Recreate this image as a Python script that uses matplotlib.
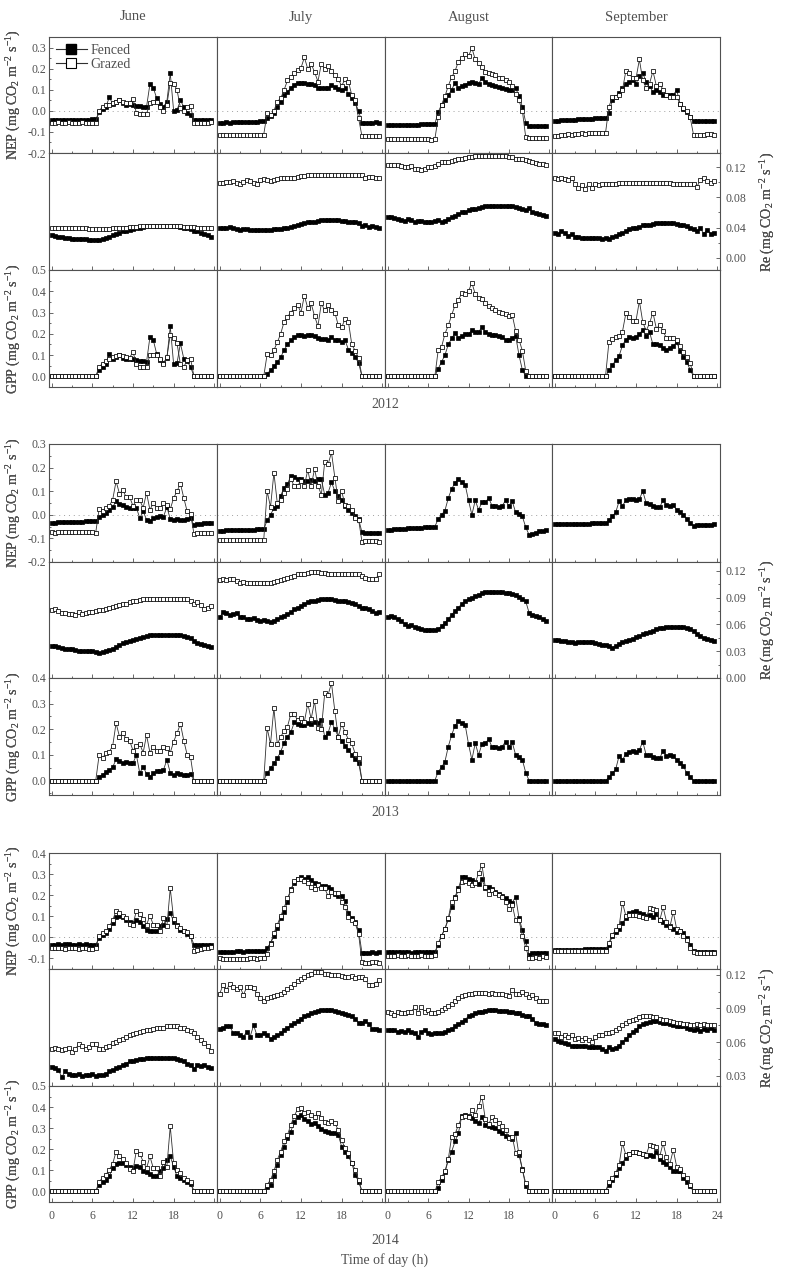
import numpy as np
import matplotlib
matplotlib.use("Agg")
import matplotlib.pyplot as plt
from matplotlib.ticker import MultipleLocator, FormatStrFormatter
from matplotlib.lines import Line2D

plt.rcParams['font.family'] = ['Liberation Serif', 'DejaVu Serif']
plt.rcParams['mathtext.fontset'] = 'custom'
plt.rcParams['mathtext.rm'] = 'Liberation Serif'
plt.rcParams['mathtext.it'] = 'Liberation Serif:italic'
plt.rcParams['axes.unicode_minus'] = False

GRAY = '#505050'

# half-hourly values, unit 0.001 mg CO2 m-2 s-1 ; f = fenced, g = grazed
months = ['June', 'July', 'August', 'September']
years = ['2012', '2013', '2014']

# ---------------- 2012 ----------------
nep_f_jun12 = [-45, -45, -44, -44, -43, -43, -42, -42, -42, -41, -41, -41, -40, -40,
               -5, 10, 20, 65, 35, 45, 50, 40, 30, 35, 30, 25, 25, 20, 20, 128, 110, 60, 35, 20,
               45, 180, 0, 5, 50, 20, -10, -20, -45, -45, -45, -44, -43, -42]
nep_g_jun12 = [-55, -55, -54, -55, -55, -54, -55, -55, -55, -54, -55, -55, -55, -55,
               0, 20, 30, 30, 40, 45, 50, 45, 40, 40, 57, -10, -15, -15, -15, 40, 45, 45, 20, 0,
               30, 135, 130, 100, 15, 0, 20, 25, -55, -55, -55, -55, -55, -54]
nep_f_jul12 = [-55, -55, -54, -55, -54, -53, -53, -52, -52, -52, -51, -51, -50, -50,
               -35, -25, -10, 20, 45, 75, 90, 110, 125, 135, 135, 135, 130, 130, 125, 110, 110, 110, 110, 125,
               115, 105, 100, 110, 80, 60, 40, 0, -55, -55, -56, -55, -54, -55]
nep_g_jul12 = [-112, -112, -113, -112, -112, -113, -113, -112, -114, -113, -114, -113, -112, -112,
               -10, -20, 0, 45, 60, 100, 145, 160, 180, 195, 205, 255, 200, 225, 185, 140, 225, 200, 215, 190,
               170, 150, 120, 150, 140, 75, 50, -35, -120, -120, -121, -120, -119, -120]
nep_f_aug12 = [-68, -68, -67, -67, -66, -66, -66, -65, -65, -65, -64, -64, -63, -63, -62,
               -5, 30, 50, 75, 100, 135, 110, 120, 125, 135, 140, 135, 130, 155, 140, 130, 125, 120, 115,
               110, 105, 100, 100, 110, 70, 20, -55, -72, -71, -71, -70, -70, -70]
nep_g_aug12 = [-135, -135, -135, -134, -135, -134, -134, -135, -134, -133, -134, -135, -134, -136, -135,
               -30, 30, 70, 120, 160, 190, 235, 250, 270, 260, 300, 245, 230, 210, 185, 180, 175, 170, 155,
               155, 145, 140, 120, 80, 50, 0, -125, -130, -130, -131, -130, -130, -129]
nep_f_sep12 = [-46, -46, -45, -44, -43, -42, -41, -40, -38, -37, -36, -36, -35, -35, -35, -35,
               -10, 50, 68, 85, 110, 130, 140, 145, 130, 165, 180, 140, 120, 90, 100, 90,
               75, 75, 75, 75, 100, 35, 10, -5, -30, -50, -50, -48, -50, -46, -50, -47]
nep_g_sep12 = [-118, -117, -115, -112, -110, -112, -108, -110, -106, -108, -104, -106, -104, -105, -104, -105,
               20, 65, 68, 75, 100, 190, 180, 155, 155, 245, 145, 110, 130, 190, 120, 130,
               100, 75, 68, 68, 68, 33, 13, 0, -30, -115, -115, -113, -112, -108, -110, -112]

re_f_jun12 = [30, 29, 28, 27, 26, 26, 25, 25, 25, 25, 25, 24, 24, 24, 24, 25, 26, 28, 30, 32,
              33, 35, 36, 37, 38, 39, 40, 41, 42, 42, 42, 42, 42, 42, 42, 42, 42, 42, 41, 40,
              39, 38, 36, 35, 33, 32, 30, 27]
re_g_jun12 = [40, 40, 40, 40, 40, 40, 39, 39, 39, 39, 39, 38, 38, 38, 38, 38, 38, 38, 39, 39,
              39, 40, 40, 41, 41, 41, 42, 42, 42, 42, 42, 42, 42, 42, 42, 42, 42, 42, 42, 41,
              41, 41, 41, 40, 40, 39, 39, 39]
re_f_jul12 = [40, 40, 39, 41, 39, 38, 37, 38, 38, 37, 37, 37, 37, 37, 37, 37, 38, 38, 38, 39,
              40, 41, 42, 43, 45, 46, 47, 47, 48, 49, 50, 50, 50, 50, 50, 50, 49, 49, 48, 48,
              47, 46, 42, 43, 41, 42, 41, 40]
re_g_jul12 = [99, 99, 100, 100, 101, 99, 98, 100, 103, 102, 99, 98, 103, 104, 103, 101, 103, 104, 105, 105,
              105, 106, 106, 107, 108, 108, 109, 109, 109, 109, 110, 110, 110, 110, 110, 110, 110, 110, 110, 110,
              110, 109, 109, 106, 107, 107, 106, 105]
re_f_aug12 = [54, 54, 53, 52, 50, 49, 51, 50, 48, 49, 49, 48, 48, 48, 49, 50, 47, 49, 51, 54,
              55, 58, 60, 61, 63, 64, 65, 66, 67, 68, 68, 69, 69, 69, 69, 69, 68, 68, 67, 66,
              64, 63, 66, 60, 59, 58, 57, 55]
re_g_aug12 = [123, 123, 123, 123, 121, 120, 120, 121, 117, 117, 116, 118, 120, 120, 121, 124, 126, 127, 127, 128,
              129, 130, 131, 132, 133, 133, 134, 134, 134, 134, 134, 134, 134, 134, 134, 134, 133, 133, 131, 131,
              130, 129, 128, 127, 125, 124, 124, 123]
re_f_sep12 = [33, 32, 36, 33, 29, 32, 28, 27, 26, 26, 26, 26, 26, 26, 25, 26, 25, 27, 29, 32,
              33, 36, 38, 39, 40, 41, 43, 43, 44, 45, 46, 46, 46, 46, 46, 46, 45, 44, 43, 42,
              40, 38, 36, 39, 32, 37, 32, 33]
re_g_sep12 = [105, 104, 106, 104, 103, 105, 98, 92, 96, 91, 98, 92, 98, 96,
              98, 98, 98, 98, 98, 99, 99, 99, 99, 99, 99, 99, 99, 99, 99, 99, 99, 99, 99, 99,
              99, 98, 98, 98, 98, 98, 98, 97, 94, 103, 105, 102, 99, 101]

gpp_f_jun12 = [0] * 14 + [30, 45, 60, 107, 83, 90, 100, 85, 80, 83, 80, 75, 73, 72, 68, 185, 170, 105,
                          75, 65, 85, 235, 57, 63, 155, 83, 70, 45] + [0] * 6
gpp_g_jun12 = [0] * 14 + [45, 60, 72, 83, 90, 95, 100, 95, 90, 88, 115, 57, 45, 45, 45, 100, 100, 100,
                          83, 57, 90, 195, 180, 155, 57, 45, 75, 83] + [0] * 6
gpp_f_jul12 = [0] * 14 + [13, 28, 47, 68, 90, 123, 150, 170, 185, 193, 193, 190, 193, 193, 190, 178, 175,
                          175, 172, 185, 172, 170, 162, 170, 126, 110, 90, 63] + [0] * 6
gpp_g_jul12 = [0] * 14 + [104, 100, 123, 160, 200, 256, 280, 300, 320, 335, 300, 380, 320, 343, 283, 236,
                          343, 310, 335, 310, 300, 240, 230, 270, 256, 150, 120, 88] + [0] * 6
gpp_f_aug12 = [0] * 15 + [36, 68, 100, 150, 178, 204, 182, 190, 198, 200, 217, 210, 210, 230, 210, 200,
                          195, 195, 190, 185, 173, 173, 182, 190, 100, 30] + [0] * 7
gpp_g_aug12 = [0] * 15 + [123, 138, 200, 240, 288, 335, 360, 390, 387, 400, 440, 387, 370, 362, 346, 330,
                          320, 310, 303, 298, 292, 285, 288, 214, 173, 120, 25] + [0] * 6
gpp_f_sep12 = [0] * 16 + [28, 52, 75, 95, 146, 173, 185, 182, 185, 198, 220, 190, 208, 150, 154, 146,
                          135, 126, 135, 142, 162, 120, 91, 68, 30] + [0] * 7
gpp_g_sep12 = [0] * 16 + [160, 175, 185, 190, 210, 296, 280, 262, 262, 354, 255, 214, 250, 300, 225, 240,
                          214, 178, 180, 180, 172, 141, 115, 90, 63] + [0] * 7

# ---------------- 2013 ----------------
nep_f_jun13 = [-33, -33, -32, -32, -31, -31, -30, -30, -29, -29, -28, -28, -27, -26,
               -10, 0, 7, 20, 33, 57, 47, 40, 35, 30, 28, 30, -14, 14, -20, -28, -15, -8, -5, -8,
               33, -18, -20, -17, -20, -20, -18, -12, -45, -40, -37, -35, -35, -34]
nep_g_jun13 = [-74, -75, -74, -74, -73, -74, -74, -73, -74, -73, -74, -74, -74, -75,
               25, 18, 28, 38, 64, 142, 90, 104, 75, 75, 38, 61, 61, 30, 93, 21, 50, 28, 28, 50,
               43, 24, 71, 100, 132, 71, 14, 4, -81, -78, -76, -75, -77, -78]
nep_f_jul13 = [-67, -67, -66, -66, -66, -65, -65, -64, -64, -63, -63, -62, -62, -61,
               -24, 0, 28, 38, 81, 114, 130, 164, 160, 152, 150, 142, 142, 146, 142, 152, 150, 85, 93, 138,
               100, 78, 64, 38, 21, 7, -4, -18, -74, -75, -75, -76, -75, -75]
nep_g_jul13 = [-107, -107, -106, -107, -107, -106, -106, -107, -106, -106, -106, -107, -106, -106,
               100, 33, 178, 50, 61, 93, 110, 152, 121, 124, 142, 124, 190, 121, 195, 124, 85, 224, 214, 264,
               157, 57, 100, 43, 36, 21, -14, -20, -114, -112, -112, -112, -112, -115]
nep_f_aug13 = [-64, -63, -62, -61, -60, -59, -58, -57, -56, -55, -54, -53, -52, -51, -50,
               -18, 0, 18, 71, 110, 135, 152, 138, 128, 61, 0, 61, 21, 53, 53, 71, 38, 38, 33, 38,
               61, 38, 57, 10, 4, -7, -53, -85, -80, -75, -70, -67, -63]
nep_f_sep13 = [-40, -40, -39, -39, -38, -38, -38, -37, -37, -37, -37, -36, -36, -36, -36, -36,
               -21, -7, 10, 57, 38, 61, 67, 67, 61, 67, 100, 50, 47, 38, 33, 33,
               61, 43, 38, 43, 21, 10, 0, -18, -36, -47, -45, -45, -44, -43, -42, -41]

re_f_jun13 = [36, 36, 35, 34, 33, 32, 32, 31, 30, 30, 30, 30, 30, 29, 28, 29, 30, 31, 33, 35,
              37, 39, 40, 42, 43, 44, 45, 46, 47, 48, 48, 48, 48, 48, 48, 48, 48, 48, 48, 47,
              46, 45, 42, 39, 38, 37, 36, 35]
re_g_jun13 = [76, 77, 75, 73, 73, 72, 72, 71, 74, 72, 73, 74, 74, 75, 76, 76, 77, 78, 80, 81,
              82, 83, 83, 85, 86, 86, 87, 88, 88, 88, 89, 89, 89, 89, 89, 89, 89, 89, 89, 89,
              88, 86, 83, 85, 82, 77, 79, 81]
re_f_jul13 = [68, 74, 73, 71, 72, 73, 68, 68, 66, 66, 67, 65, 64, 65, 64, 63, 64, 66, 68, 70,
              72, 74, 77, 79, 81, 83, 85, 86, 86, 87, 88, 88, 88, 88, 87, 86, 86, 86, 85, 84,
              83, 81, 79, 78, 77, 75, 73, 74]
re_g_jul13 = [110, 111, 110, 111, 111, 109, 106, 108, 107, 107, 107, 107, 106, 107, 107, 107, 108, 109, 110, 111,
              112, 113, 114, 116, 116, 117, 118, 119, 119, 119, 118, 118, 117, 117, 117, 117, 117, 117, 116, 116,
              116, 116, 114, 112, 111, 111, 111, 116]
re_f_aug13 = [68, 70, 68, 66, 64, 61, 58, 59, 57, 56, 55, 54, 54, 54, 54, 55, 58, 62, 66, 71,
              75, 79, 83, 86, 88, 90, 92, 93, 95, 96, 96, 96, 96, 96, 96, 95, 95, 94, 93, 91,
              89, 86, 73, 71, 70, 68, 66, 64]
re_f_sep13 = [43, 43, 41, 41, 40, 40, 39, 40, 40, 40, 40, 40, 39, 38, 37, 37, 36, 34, 36, 38,
              40, 41, 43, 44, 46, 47, 49, 50, 52, 53, 55, 56, 56, 57, 57, 57, 57, 57, 57, 56,
              55, 53, 49, 47, 45, 44, 43, 41]

gpp_f_jun13 = [0] * 14 + [16, 22, 35, 42, 52, 83, 78, 70, 74, 70, 68, 100, 29, 55, 26, 16, 29, 39, 39,
                          42, 81, 31, 22, 29, 26, 22, 22, 26] + [0] * 6
gpp_g_jun13 = [0] * 14 + [100, 87, 107, 113, 135, 224, 172, 185, 162, 156, 117, 135, 143, 109, 178, 109,
                          133, 117, 117, 133, 126, 109, 152, 185, 221, 156, 100, 91] + [0] * 6
gpp_f_jul13 = [0] * 14 + [29, 48, 68, 87, 113, 146, 172, 188, 227, 221, 218, 218, 224, 221, 227, 224,
                          237, 172, 185, 230, 200, 172, 156, 135, 120, 100, 85, 70] + [0] * 6
gpp_g_jul13 = [0] * 14 + [205, 143, 283, 143, 170, 195, 210, 260, 260, 235, 245, 230, 300, 240, 310, 205,
                          200, 340, 335, 380, 270, 170, 220, 190, 160, 145, 105, 90] + [0] * 6
gpp_f_aug13 = [0] * 15 + [35, 52, 74, 133, 178, 214, 231, 224, 218, 143, 81, 146, 100, 143, 146, 162,
                          130, 133, 126, 133, 152, 133, 149, 100, 94, 81, 31] + [0] * 6
gpp_f_sep13 = [0] * 16 + [13, 29, 44, 96, 81, 104, 113, 117, 113, 120, 152, 100, 100, 91, 87, 87,
                          117, 96, 100, 96, 81, 70, 57, 29, 13] + [0] * 7

# ---------------- 2014 ----------------
nep_f_jun14 = [-35, -38, -33, -35, -33, -32, -35, -34, -33, -35, -33, -34, -35, -34,
               -3, 13, 20, 40, 67, 96, 102, 96, 83, 75, 67, 80, 75, 52, 36, 28, 28, 28, 52, 60,
               86, 115, 75, 60, 36, 28, 17, 8, -35, -38, -37, -36, -36, -35]
nep_g_jun14 = [-50, -52, -50, -51, -53, -50, -51, -52, -53, -51, -52, -54, -53, -52,
               8, 20, 28, 52, 80, 127, 115, 102, 91, 64, 60, 127, 111, 86, 60, 102, 60, 60, 28, 90,
               52, 232, 86, 55, 44, 28, 24, 5, -66, -58, -55, -52, -50, -46]
nep_f_jul14 = [-70, -70, -69, -68, -68, -67, -67, -68, -67, -66, -66, -66, -66, -65,
               -50, -27, 5, 44, 91, 122, 170, 227, 259, 279, 284, 275, 284, 271, 256, 253, 243, 245, 237, 227,
               205, 196, 196, 174, 115, 91, 71, 36, -74, -72, -72, -71, -72, -71]
nep_g_jul14 = [-100, -102, -104, -103, -102, -104, -101, -103, -102, -100, -100, -101, -100, -98,
               -80, -30, 20, 60, 100, 140, 185, 225, 265, 279, 279, 268, 259, 237, 227, 248, 232, 232, 196, 216,
               212, 212, 170, 143, 96, 83, 67, 17, -118, -120, -120, -119, -117, -120]
nep_f_aug14 = [-70, -71, -70, -68, -70, -69, -70, -72, -70, -69, -70, -68, -70, -69, -68,
               -35, 8, 40, 86, 143, 193, 232, 284, 287, 279, 271, 264, 253, 275, 232, 237, 227, 216, 205,
               196, 185, 174, 165, 193, 91, 36, -19, -82, -75, -74, -73, -72, -72]
nep_g_aug14 = [-86, -86, -87, -85, -86, -87, -85, -86, -88, -86, -85, -87, -86, -86, -85,
               -27, 8, 40, 91, 170, 185, 224, 264, 268, 259, 248, 259, 303, 342, 237, 205, 224, 212, 200,
               193, 170, 133, 154, 80, 83, 8, -50, -97, -97, -93, -97, -90, -93]
nep_f_sep14 = [-61, -61, -60, -60, -59, -59, -58, -58, -58, -57, -57, -56, -56, -55, -55, -55,
               -35, 5, 24, 40, 67, 91, 115, 122, 127, 115, 111, 102, 105, 96, 111, 83,
               71, 60, 52, 40, 24, 28, 20, -3, -35, -66, -69, -69, -68, -69, -69, -68]
nep_g_sep14 = [-66, -67, -66, -65, -66, -66, -65, -66, -64, -65, -66, -65, -64, -65, -66, -64,
               -27, 13, 33, 52, 165, 102, 107, 107, 107, 102, 96, 91, 138, 133, 130, 80,
               143, 75, 49, 122, 40, 28, 5, -11, -50, -70, -74, -74, -73, -74, -75, -73]

re_f_jun14 = [38, 37, 35, 29, 34, 32, 31, 31, 32, 30, 31, 31, 32, 30, 31, 31, 32, 34, 35, 37,
              38, 40, 41, 43, 43, 44, 45, 45, 46, 46, 46, 46, 46, 46, 46, 46, 46, 45, 44, 43,
              41, 40, 36, 40, 39, 40, 38, 37]
re_g_jun14 = [54, 55, 54, 53, 54, 55, 51, 54, 58, 57, 54, 56, 58, 58, 54, 54, 56, 57, 59, 60,
              62, 63, 65, 66, 67, 68, 69, 70, 71, 71, 72, 73, 73, 73, 74, 74, 74, 74, 73, 73,
              71, 70, 68, 65, 62, 59, 57, 52]
re_f_jul14 = [72, 73, 74, 74, 68, 68, 66, 65, 69, 65, 75, 66, 66, 68, 66, 63, 65, 66, 68, 71,
              73, 75, 77, 79, 81, 83, 84, 86, 87, 88, 89, 89, 89, 89, 88, 87, 86, 85, 84, 83,
              81, 77, 77, 79, 76, 72, 72, 71]
re_g_jul14 = [103, 111, 106, 112, 109, 107, 109, 102, 109, 109, 108, 103, 99, 97, 99, 100, 101, 102, 103, 105,
              107, 109, 112, 114, 116, 118, 120, 121, 122, 122, 122, 121, 121, 120, 120, 120, 119, 118, 118, 119,
              117, 118, 118, 116, 111, 111, 112, 115]
re_f_aug14 = [71, 71, 71, 69, 70, 69, 71, 69, 68, 65, 69, 71, 68, 67, 68, 68, 68, 69, 71, 72,
              74, 76, 78, 80, 83, 84, 86, 87, 87, 88, 89, 89, 89, 88, 88, 88, 87, 87, 86, 86,
              84, 83, 83, 81, 77, 76, 76, 75]
re_g_aug14 = [87, 86, 84, 87, 86, 86, 87, 87, 91, 86, 91, 87, 89, 86, 86, 87, 89, 90, 92, 94,
              97, 99, 101, 102, 103, 103, 104, 104, 104, 104, 103, 104, 103, 103, 103, 102, 101, 106, 103, 103,
              105, 103, 100, 102, 99, 97, 97, 97]
re_f_sep14 = [63, 61, 60, 59, 58, 57, 57, 57, 57, 57, 56, 56, 56, 56, 54, 52, 56, 54, 55, 57,
              60, 63, 66, 69, 71, 74, 76, 77, 78, 79, 79, 78, 77, 77, 76, 75, 74, 74, 74, 73,
              72, 71, 72, 70, 72, 71, 73, 71]
re_g_sep14 = [68, 68, 65, 66, 65, 66, 63, 64, 62, 64, 62, 60, 65, 66, 66, 68, 68, 69, 71, 73,
              75, 77, 79, 80, 81, 82, 83, 83, 83, 82, 82, 81, 80, 80, 79, 78, 77, 77, 76, 76,
              75, 75, 76, 75, 76, 75, 75, 75]

gpp_f_jun14 = [0] * 14 + [32, 43, 55, 74, 110, 131, 137, 134, 126, 118, 110, 121, 118, 99, 90, 84, 74,
                          74, 99, 110, 150, 166, 118, 71, 63, 55, 47, 36] + [0] * 6
gpp_g_jun14 = [0] * 14 + [47, 63, 79, 103, 131, 189, 169, 153, 134, 106, 99, 194, 178, 142, 110, 166,
                          110, 110, 71, 142, 118, 308, 134, 103, 87, 63, 55, 47] + [0] * 6
gpp_f_jul14 = [0] * 14 + [20, 32, 71, 126, 173, 213, 252, 284, 331, 352, 363, 342, 336, 320, 326, 311,
                          295, 289, 284, 276, 279, 268, 213, 189, 166, 134, 79, 47] + [0] * 6
gpp_g_jul14 = [0] * 14 + [32, 55, 95, 150, 189, 237, 268, 315, 358, 390, 394, 371, 379, 363, 352, 371,
                          347, 331, 326, 336, 323, 292, 244, 205, 181, 134, 103, 55] + [0] * 6
gpp_f_aug14 = [0] * 15 + [16, 52, 90, 150, 189, 237, 276, 358, 363, 358, 347, 336, 326, 352, 315, 311,
                          304, 300, 289, 279, 263, 257, 248, 276, 173, 106, 24] + [0] * 6
gpp_g_aug14 = [0] * 15 + [43, 68, 95, 153, 260, 273, 315, 352, 358, 352, 386, 363, 405, 450, 342, 320,
                          352, 339, 323, 308, 292, 252, 260, 181, 185, 103, 39] + [0] * 6
gpp_f_sep14 = [0] * 16 + [32, 55, 79, 110, 137, 158, 178, 185, 189, 181, 178, 169, 172, 166, 189, 153,
                          142, 131, 118, 99, 95, 95, 63, 43, 24] + [0] * 7
gpp_g_sep14 = [0] * 16 + [43, 63, 87, 126, 229, 173, 178, 185, 185, 181, 178, 173, 221, 216, 213, 166,
                          229, 162, 131, 197, 118, 106, 79, 63, 32] + [0] * 7

# assemble (fenced, grazed) per year / month
series = {
    'NEP': {
        '2012': [(nep_f_jun12, nep_g_jun12), (nep_f_jul12, nep_g_jul12), (nep_f_aug12, nep_g_aug12), (nep_f_sep12, nep_g_sep12)],
        '2013': [(nep_f_jun13, nep_g_jun13), (nep_f_jul13, nep_g_jul13), (nep_f_aug13, None), (nep_f_sep13, None)],
        '2014': [(nep_f_jun14, nep_g_jun14), (nep_f_jul14, nep_g_jul14), (nep_f_aug14, nep_g_aug14), (nep_f_sep14, nep_g_sep14)],
    },
    'Re': {
        '2012': [(re_f_jun12, re_g_jun12), (re_f_jul12, re_g_jul12), (re_f_aug12, re_g_aug12), (re_f_sep12, re_g_sep12)],
        '2013': [(re_f_jun13, re_g_jun13), (re_f_jul13, re_g_jul13), (re_f_aug13, None), (re_f_sep13, None)],
        '2014': [(re_f_jun14, re_g_jun14), (re_f_jul14, re_g_jul14), (re_f_aug14, re_g_aug14), (re_f_sep14, re_g_sep14)],
    },
    'GPP': {
        '2012': [(gpp_f_jun12, gpp_g_jun12), (gpp_f_jul12, gpp_g_jul12), (gpp_f_aug12, gpp_g_aug12), (gpp_f_sep12, gpp_g_sep12)],
        '2013': [(gpp_f_jun13, gpp_g_jun13), (gpp_f_jul13, gpp_g_jul13), (gpp_f_aug13, None), (gpp_f_sep13, None)],
        '2014': [(gpp_f_jun14, gpp_g_jun14), (gpp_f_jul14, gpp_g_jul14), (gpp_f_aug14, gpp_g_aug14), (gpp_f_sep14, gpp_g_sep14)],
    },
}

# axis ranges and ticks
ylims = {
    'NEP': {'2012': (-0.2, 0.352), '2013': (-0.2, 0.3), '2014': (-0.15, 0.4)},
    'Re': {'2012': (-0.016, 0.1385), '2013': (0.0, 0.13), '2014': (0.021, 0.125)},
    'GPP': {'2012': (-0.05, 0.5), '2013': (-0.056, 0.4), '2014': (-0.05, 0.5)},
}
re_step = {'2012': 0.04, '2013': 0.03, '2014': 0.03}

# layout in pixels
W, H = 787.0, 1271.0
col_x = [49, 217, 385, 552, 720]
row_y = {'2012': [37, 153, 270, 387], '2013': [444, 562, 678, 795], '2014': [853, 969, 1086, 1202]}
year_y = {'2012': 405, '2013': 812, '2014': 1241}

fig = plt.figure(figsize=(W / 100, H / 100), dpi=100)


def rect(x0, x1, y0, y1):
    return [x0 / W, 1 - y1 / H, (x1 - x0) / W, (y1 - y0) / H]


def draw(ax, fenced, grazed):
    x = np.arange(len(fenced)) * 0.5
    ax.plot(x, np.array(fenced) / 1000.0, '-', color='#303030', lw=0.6, marker='s', ms=2.6,
            mfc='black', mec='black', mew=0.5, zorder=3)
    if grazed is not None:
        xg = np.arange(len(grazed)) * 0.5
        ax.plot(xg, np.array(grazed) / 1000.0, '-', color='#303030', lw=0.6, marker='s', ms=2.6,
                mfc='white', mec='black', mew=0.55, zorder=4)


label_txt = {
    'NEP': 'NEP (mg CO$_2$ m$^{-2}$ s$^{-1}$)',
    'GPP': 'GPP (mg CO$_2$ m$^{-2}$ s$^{-1}$)',
    'Re': 'Re (mg CO$_2$ m$^{-2}$ s$^{-1}$)',
}

legend_ax = None
for yr in years:
    ys = row_y[yr]
    for r, var in enumerate(['NEP', 'Re', 'GPP']):
        for c in range(4):
            ax = fig.add_axes(rect(col_x[c], col_x[c + 1], ys[r], ys[r + 1]))
            f, g = series[var][yr][c]
            if var == 'NEP':
                ax.axhline(0, color='#a0a0a0', lw=0.7, ls=(0, (1, 4)), zorder=1)
            draw(ax, f, g)
            ax.set_xlim(-0.4, 24.4)
            ax.set_ylim(*ylims[var][yr])
            for s in ax.spines.values():
                s.set_color(GRAY)
                s.set_linewidth(0.8)
            ax.xaxis.set_major_locator(MultipleLocator(6))
            ax.xaxis.set_minor_locator(MultipleLocator(3))
            ax.tick_params(which='both', direction='in', colors=GRAY, labelcolor=GRAY,
                           labelsize=8.5, width=0.6, top=False, right=False, left=False)
            ax.tick_params(which='major', length=3)
            ax.tick_params(which='minor', length=1.5)
            if var == 'GPP' and yr == '2014':
                ax.set_xticks([0, 6, 12, 18, 24])
                labs = ['0', '6', '12', '18', '24'] if c == 3 else ['0', '6', '12', '18', '']
                ax.set_xticklabels(labs)
                ax.tick_params(axis='x', pad=6)
            else:
                ax.tick_params(axis='x', labelbottom=False)
            if var in ('NEP', 'GPP'):
                ax.yaxis.set_major_locator(MultipleLocator(0.1))
                ax.yaxis.set_minor_locator(MultipleLocator(0.05))
                ax.yaxis.set_major_formatter(FormatStrFormatter('%.1f'))
                if c == 0:
                    ax.tick_params(axis='y', which='both', left=True, labelleft=True, pad=2)
                else:
                    ax.tick_params(axis='y', which='both', labelleft=False)
            else:
                ax.yaxis.set_major_locator(MultipleLocator(re_step[yr]))
                ax.yaxis.set_minor_locator(MultipleLocator(re_step[yr] / 2))
                ax.yaxis.set_major_formatter(FormatStrFormatter('%.2f'))
                if c == 3:
                    ax.tick_params(axis='y', which='both', right=True, labelright=True,
                                   labelleft=False, pad=4)
                else:
                    ax.tick_params(axis='y', which='both', labelleft=False)
            if yr == '2012' and var == 'NEP' and c == 0:
                legend_ax = ax
        # row labels
        for var, r in (('NEP', 0), ('GPP', 2)):
            yc = (ys[r] + ys[r + 1]) / 2.0
            fig.text(14 / W, 1 - yc / H, label_txt[var], rotation=90, ha='center', va='center',
                     fontsize=10, color=GRAY)
        yc = (ys[1] + ys[2]) / 2.0
        fig.text(768 / W, 1 - yc / H, label_txt['Re'], rotation=90, ha='center', va='center',
                 fontsize=10, color=GRAY)
    fig.text(385 / W, 1 - year_y[yr] / H, yr, ha='center', va='center', fontsize=10, color=GRAY)

for c, m in enumerate(months):
    xc = (col_x[c] + col_x[c + 1]) / 2.0
    fig.text(xc / W, 1 - 17 / H, m, ha='center', va='center', fontsize=10.5, color=GRAY)

fig.text(385 / W, 1 - 1260 / H, 'Time of day (h)', ha='center', va='center', fontsize=10, color=GRAY)

h_f = Line2D([], [], color='#303030', lw=0.8, marker='s', ms=6.5, mfc='black', mec='black')
h_g = Line2D([], [], color='#303030', lw=0.8, marker='s', ms=6.5, mfc='white', mec='black', mew=0.8)
legend_ax.legend([h_f, h_g], ['Fenced', 'Grazed'], loc='upper left', frameon=False, fontsize=10,
                 handlelength=2.2, handletextpad=0.3, labelspacing=0.1, borderaxespad=0.3,
                 borderpad=0.2, labelcolor=GRAY)

fig.savefig('out.png', dpi=100)
